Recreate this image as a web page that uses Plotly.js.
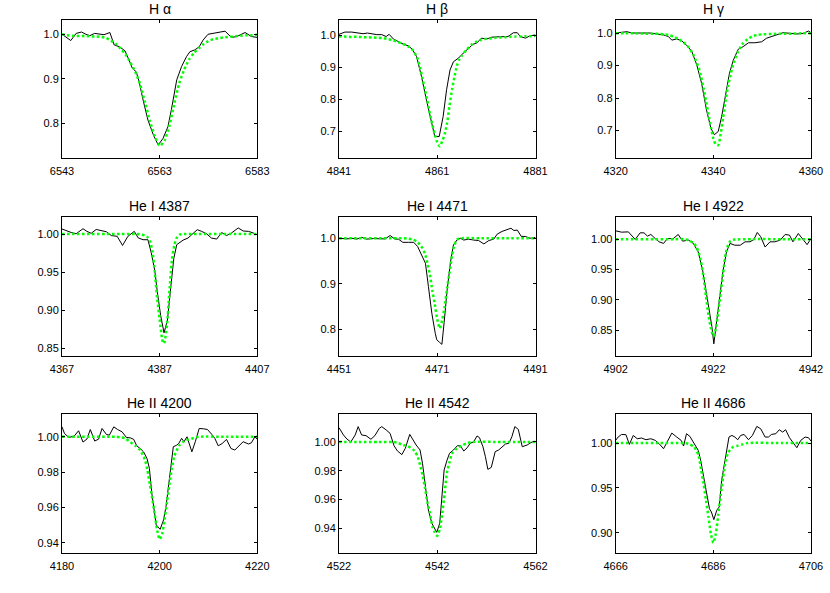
<!DOCTYPE html>
<html>
<head>
<meta charset="utf-8">
<script src="https://cdn.plot.ly/plotly-3.0.1.min.js"></script>
<style>html,body{margin:0;padding:0;background:#fff;}#chart{width:830px;height:593px;}</style>
</head>
<body>
<div id="chart"></div>
<script>
// ---------- Panel titles ----------
const panelTitles = ["H α", "H β", "H γ", "He I 4387", "He I 4471", "He I 4922", "He II 4200", "He II 4542", "He II 4686"];

// ---------- H alpha ----------
const haObsX = [6543, 6543.9, 6544.8, 6545.9, 6547.0, 6547.9, 6548.7, 6549.7, 6550.6, 6551.6, 6552.8, 6553.7, 6554.8, 6555.9, 6556.7, 6557.4, 6558.2, 6558.8, 6559.6, 6560.6, 6561.7, 6562.7, 6563.7, 6564.7, 6565.4, 6566.5, 6567.5, 6568.5, 6569.2, 6570.2, 6571.1, 6571.9, 6572.9, 6574.0, 6575.3, 6576.4, 6577.7, 6578.8, 6580.5, 6581.8, 6583.0];
const haObsY = [1.0, 0.993, 0.986, 1.002, 1.005, 1.0, 0.997, 1.002, 1.0, 0.999, 1.004, 0.976, 0.972, 0.963, 0.943, 0.924, 0.916, 0.894, 0.853, 0.808, 0.775, 0.752, 0.767, 0.793, 0.831, 0.898, 0.928, 0.950, 0.961, 0.965, 0.972, 0.987, 1.0, 1.002, 1.006, 1.007, 0.993, 0.995, 1.004, 0.995, 0.993];
const haModX = [6543, 6544, 6545, 6546, 6547, 6548, 6549, 6550, 6551, 6552, 6553, 6554, 6555, 6556, 6557, 6558, 6559, 6560, 6561, 6562, 6563, 6564, 6565, 6566, 6567, 6568, 6569, 6570, 6571, 6572, 6573, 6574, 6575, 6576, 6577, 6578, 6579, 6580, 6581, 6582, 6583];
const haModY = [1.0, 0.998, 0.997, 0.996, 0.996, 0.996, 0.995, 0.995, 0.994, 0.992, 0.986, 0.979, 0.968, 0.955, 0.937, 0.916, 0.888, 0.848, 0.806, 0.772, 0.750, 0.762, 0.795, 0.845, 0.890, 0.920, 0.943, 0.958, 0.968, 0.978, 0.985, 0.989, 0.991, 0.993, 0.994, 0.995, 0.996, 0.997, 0.998, 0.998, 0.999];

// ---------- H beta ----------
const hbObsX = [4841.0, 4842.2, 4843.6, 4844.9, 4845.9, 4846.8, 4847.6, 4848.7, 4849.7, 4850.6, 4851.2, 4852.1, 4853.1, 4854.1, 4855.1, 4855.9, 4856.8, 4857.8, 4858.8, 4859.8, 4860.5, 4861.4, 4862.2, 4862.9, 4863.6, 4864.3, 4865.3, 4866.3, 4867.3, 4868.3, 4869.0, 4870.0, 4871.0, 4872.1, 4873.1, 4874.1, 4875.4, 4876.5, 4877.3, 4877.9, 4879.0, 4879.8, 4881.0];
const hbObsY = [1.004, 1.011, 1.011, 1.009, 1.006, 1.008, 1.006, 1.003, 1.003, 0.997, 1.004, 0.989, 0.981, 0.973, 0.968, 0.957, 0.934, 0.871, 0.798, 0.730, 0.683, 0.683, 0.746, 0.830, 0.892, 0.918, 0.929, 0.945, 0.958, 0.973, 0.976, 0.992, 0.989, 0.995, 0.996, 0.997, 0.997, 1.009, 1.009, 0.997, 0.992, 0.999, 1.002];
const hbModX = [4841, 4842, 4843, 4844, 4845, 4846, 4847, 4848, 4849, 4850, 4851, 4852, 4853, 4854, 4855, 4856, 4857, 4857.5, 4858, 4858.5, 4859, 4859.5, 4860, 4860.5, 4861, 4861.5, 4862, 4862.5, 4863, 4863.5, 4864, 4864.5, 4865, 4865.5, 4866, 4867, 4868, 4869, 4870, 4871, 4872, 4873, 4874, 4875, 4876, 4877, 4878, 4879, 4880, 4881];
const hbModY = [0.997, 0.997, 0.996, 0.996, 0.996, 0.995, 0.995, 0.994, 0.993, 0.992, 0.989, 0.985, 0.980, 0.974, 0.967, 0.955, 0.928, 0.900, 0.865, 0.830, 0.795, 0.755, 0.720, 0.690, 0.665, 0.652, 0.668, 0.690, 0.725, 0.780, 0.830, 0.870, 0.905, 0.925, 0.937, 0.956, 0.972, 0.981, 0.987, 0.990, 0.991, 0.993, 0.994, 0.995, 0.996, 0.997, 0.997, 0.998, 0.998, 0.999];

// ---------- H gamma ----------
const hgObsX = [4320, 4321.2, 4322.3, 4323.3, 4324.6, 4326.0, 4327.0, 4328.4, 4329.8, 4330.8, 4331.5, 4332.5, 4333.5, 4334.5, 4335.6, 4336.6, 4337.6, 4338.6, 4339.5, 4340.2, 4341.0, 4341.7, 4342.4, 4343.3, 4344.1, 4345.1, 4346.1, 4347.2, 4348.5, 4349.9, 4350.9, 4351.9, 4353.3, 4354.3, 4355.7, 4357.1, 4358.4, 4359.5, 4360];
const hgObsY = [1.0, 1.003, 1.004, 1.0, 1.0, 1.001, 1.0, 0.997, 0.994, 0.989, 0.978, 0.982, 0.976, 0.963, 0.943, 0.902, 0.845, 0.763, 0.707, 0.687, 0.697, 0.743, 0.804, 0.876, 0.917, 0.950, 0.958, 0.970, 0.970, 0.973, 0.984, 0.989, 0.995, 1.001, 0.999, 0.997, 0.999, 1.006, 1.001];
const hgModX = [4320, 4322, 4324, 4326, 4328, 4329, 4330, 4331, 4332, 4333, 4334, 4335, 4336, 4337, 4337.5, 4338, 4338.5, 4339, 4339.5, 4340, 4340.5, 4341, 4341.5, 4342, 4342.5, 4343, 4343.5, 4344, 4345, 4346, 4347, 4348, 4349, 4350, 4352, 4354, 4356, 4358, 4360];
const hgModY = [0.999, 0.999, 0.999, 0.998, 0.998, 0.997, 0.996, 0.993, 0.988, 0.980, 0.970, 0.955, 0.930, 0.893, 0.865, 0.830, 0.790, 0.750, 0.710, 0.675, 0.657, 0.655, 0.690, 0.740, 0.790, 0.835, 0.870, 0.900, 0.940, 0.967, 0.981, 0.990, 0.994, 0.996, 0.997, 0.998, 0.998, 0.999, 0.999];

// ---------- He I 4387 ----------
const he4387ObsX = [4367, 4367.9, 4368.9, 4369.9, 4371.3, 4372.1, 4373.0, 4374.0, 4375.1, 4376.1, 4377.1, 4378.3, 4379.4, 4380.5, 4381.8, 4382.6, 4383.6, 4384.6, 4385.3, 4386.0, 4386.5, 4387.2, 4387.9, 4388.6, 4389.2, 4389.9, 4390.5, 4391.8, 4392.8, 4393.9, 4394.7, 4395.6, 4396.6, 4397.6, 4398.7, 4399.7, 4400.7, 4401.7, 4403.1, 4404.1, 4405.2, 4406.2, 4407];
const he4387ObsY = [1.0066, 1.004, 1.002, 1.0004, 1.007, 1.0035, 1.001, 1.006, 1.004, 1.003, 0.998, 0.997, 0.985, 0.997, 1.0035, 0.995, 0.9925, 0.9925, 0.975, 0.952, 0.925, 0.893, 0.870, 0.887, 0.925, 0.968, 0.986, 0.992, 0.9947, 1.0013, 1.0057, 1.0035, 1.0004, 0.9947, 0.9934, 1.002, 0.998, 1.0013, 1.008, 1.004, 1.0035, 1.0013, 0.999];
const he4387ModX = [4367, 4370, 4373, 4376, 4379, 4382, 4383, 4384, 4384.5, 4385, 4385.5, 4386, 4386.5, 4387, 4387.5, 4387.8, 4388, 4388.5, 4389, 4389.5, 4390, 4390.5, 4391, 4392, 4395, 4400, 4407];
const he4387ModY = [1.0, 1.0, 1.0, 1.0, 1.0, 1.0, 0.9995, 0.998, 0.996, 0.991, 0.978, 0.950, 0.915, 0.888, 0.862, 0.856, 0.858, 0.880, 0.925, 0.965, 0.985, 0.995, 0.999, 1.0, 1.0, 1.0, 1.0];

// ---------- He I 4471 ----------
const he4471ObsX = [4451, 4452.6, 4453.6, 4454.6, 4455.6, 4456.6, 4458.0, 4459.4, 4460.4, 4461.4, 4462.4, 4463.1, 4464.0, 4465.1, 4466.2, 4467.0, 4467.9, 4468.6, 4469.2, 4469.9, 4470.6, 4470.9, 4471.5, 4471.95, 4472.4, 4473.0, 4473.7, 4474.3, 4475.0, 4475.7, 4476.4, 4477.4, 4478.4, 4479.4, 4480.5, 4481.5, 4482.5, 4483.2, 4484.2, 4485.2, 4486.0, 4486.6, 4487.3, 4488.1, 4488.9, 4489.9, 4491];
const he4471ObsY = [1.0, 0.9985, 1.0, 0.998, 1.002, 0.998, 0.9993, 0.9993, 0.9985, 1.006, 0.998, 0.998, 0.991, 0.991, 0.991, 0.982, 0.963, 0.945, 0.894, 0.835, 0.791, 0.777, 0.771, 0.767, 0.815, 0.885, 0.948, 0.985, 0.996, 1.0, 0.996, 0.998, 0.996, 0.995, 0.9875, 0.995, 0.998, 1.009, 1.015, 1.018, 1.022, 1.017, 1.018, 1.004, 1.004, 1.0, 1.002];
const he4471ModX = [4451, 4455, 4460, 4464, 4465, 4466, 4467, 4467.5, 4468, 4468.5, 4469, 4469.5, 4470, 4470.5, 4471, 4471.5, 4472, 4472.5, 4473, 4473.5, 4474, 4474.5, 4475, 4476, 4480, 4485, 4491];
const he4471ModY = [1.0, 1.0, 1.0, 1.0, 0.999, 0.997, 0.992, 0.985, 0.978, 0.966, 0.945, 0.920, 0.885, 0.855, 0.822, 0.802, 0.820, 0.850, 0.890, 0.925, 0.962, 0.985, 0.997, 1.0, 1.0, 1.0, 1.0];

// ---------- He I 4922 ----------
const he4922ObsX = [4902, 4903.2, 4904.6, 4906.0, 4907.0, 4907.8, 4908.5, 4909.2, 4910.1, 4910.9, 4911.8, 4912.6, 4913.8, 4914.8, 4915.7, 4916.9, 4917.9, 4918.9, 4919.8, 4920.5, 4921.2, 4921.7, 4922.1, 4922.7, 4923.4, 4924.0, 4924.7, 4925.4, 4926.4, 4927.5, 4928.5, 4929.5, 4930.3, 4931.0, 4931.7, 4932.6, 4933.6, 4934.6, 4935.7, 4936.7, 4937.6, 4938.3, 4939.4, 4940.4, 4941.2, 4942];
const he4922ObsY = [1.0137, 1.0115, 1.012, 0.9995, 1.0104, 1.0104, 1.005, 1.0077, 1.001, 0.9956, 0.993, 1.001, 1.001, 1.0077, 0.9967, 0.9984, 0.993, 0.979, 0.949, 0.916, 0.881, 0.856, 0.8276, 0.867, 0.916, 0.949, 0.979, 0.993, 0.990, 0.990, 0.9956, 0.9956, 0.9995, 1.011, 1.004, 0.987, 0.9956, 0.9956, 0.9984, 1.0077, 1.0066, 0.9956, 1.0093, 0.9984, 0.991, 1.001];
const he4922ModX = [4902, 4906, 4910, 4914, 4916, 4917, 4918, 4918.5, 4919, 4919.5, 4920, 4920.5, 4921, 4921.5, 4922, 4922.5, 4923, 4923.5, 4924, 4924.5, 4925, 4925.5, 4926, 4930, 4936, 4942];
const he4922ModY = [1.0, 1.0, 1.0, 1.0, 1.0, 0.998, 0.993, 0.988, 0.978, 0.962, 0.937, 0.905, 0.875, 0.853, 0.840, 0.852, 0.880, 0.912, 0.944, 0.975, 0.990, 0.997, 0.999, 1.0, 1.0, 1.0];

// ---------- He II 4200 ----------
const he4200ObsX = [4180, 4180.5, 4181.4, 4182.5, 4183.4, 4184.3, 4185.1, 4185.8, 4186.7, 4187.5, 4188.2, 4189.1, 4189.7, 4190.6, 4191.4, 4192.3, 4193.2, 4194.0, 4194.7, 4195.3, 4196.0, 4196.7, 4197.4, 4197.9, 4198.4, 4198.9, 4199.3, 4200.1, 4200.8, 4201.3, 4201.8, 4202.4, 4202.8, 4203.4, 4203.9, 4204.5, 4205.0, 4205.6, 4206.1, 4206.6, 4207.3, 4208.1, 4209.0, 4209.8, 4210.7, 4211.3, 4212.0, 4212.8, 4213.7, 4214.6, 4215.4, 4216.3, 4217.1, 4218.2, 4218.8, 4219.5, 4220];
const he4200ObsY = [1.0056, 1.0019, 0.9996, 1.0004, 1.0034, 0.997, 0.9987, 1.0041, 0.9976, 0.9987, 1.0047, 1.0013, 1.0009, 1.0056, 1.0041, 1.0028, 0.9996, 0.9994, 0.9985, 0.9949, 0.9934, 0.9915, 0.9878, 0.9821, 0.968, 0.9567, 0.9502, 0.9477, 0.953, 0.9605, 0.9718, 0.985, 0.9944, 0.9951, 0.9962, 0.9991, 0.9972, 1.0, 0.9962, 0.9915, 0.9972, 1.0047, 1.0045, 1.0041, 1.0013, 0.9991, 0.9949, 0.9962, 0.9985, 0.9934, 0.9925, 0.9953, 0.9972, 0.9959, 0.9966, 1.0, 0.9985];
const he4200ModX = [4180, 4185, 4190, 4191, 4192, 4193, 4194, 4195, 4196, 4197, 4197.5, 4198, 4198.5, 4199, 4199.5, 4200, 4200.5, 4201, 4201.5, 4202, 4202.5, 4203, 4204, 4205, 4206, 4207, 4208, 4214, 4220];
const he4200ModY = [1.0, 1.0, 1.0, 1.0, 0.9997, 0.999, 0.997, 0.995, 0.9925, 0.987, 0.981, 0.973, 0.965, 0.956, 0.947, 0.942, 0.945, 0.953, 0.963, 0.973, 0.982, 0.989, 0.995, 0.9975, 0.9985, 0.9993, 1.0, 1.0, 1.0];

// ---------- He II 4542 ----------
const he4542ObsX = [4522, 4522.9, 4523.6, 4524.4, 4525.3, 4525.9, 4526.6, 4527.5, 4528.5, 4529.3, 4530.2, 4530.7, 4531.6, 4532.4, 4533.2, 4533.9, 4534.8, 4535.5, 4536.4, 4537.0, 4537.7, 4538.5, 4539.0, 4539.6, 4540.2, 4540.9, 4541.5, 4541.9, 4542.5, 4543.0, 4543.4, 4544.0, 4544.5, 4545.3, 4546.1, 4546.7, 4547.4, 4548.1, 4548.7, 4549.4, 4550.1, 4550.6, 4551.3, 4551.8, 4552.3, 4553.0, 4553.8, 4554.5, 4555.2, 4555.9, 4556.6, 4557.2, 4557.8, 4558.5, 4559.3, 4560.3, 4561.3, 4562];
const he4542ObsY = [1.01, 1.0049, 1.0021, 1.0, 1.0049, 1.0107, 1.0049, 1.0044, 1.0019, 1.0044, 1.0095, 1.0107, 1.0084, 1.006, 0.9974, 0.9937, 0.9912, 0.9956, 1.0053, 1.0019, 0.9979, 0.9944, 0.9851, 0.9688, 0.9526, 0.9433, 0.9391, 0.937, 0.9433, 0.9619, 0.9805, 0.9874, 0.9921, 0.9944, 0.9974, 0.9974, 0.9937, 0.996, 0.9991, 1.0, 1.0042, 1.003, 0.9967, 0.9898, 0.9809, 0.9823, 0.9933, 0.9944, 0.9967, 0.9986, 0.9991, 1.0037, 1.0107, 1.0088, 0.9967, 0.9979, 1.0, 1.0];
const he4542ModX = [4522, 4526, 4530, 4533, 4534, 4535, 4536, 4537, 4537.5, 4538, 4538.5, 4539, 4539.5, 4540, 4540.5, 4541, 4541.5, 4542, 4542.5, 4543, 4543.5, 4544, 4544.5, 4545, 4546, 4547, 4548, 4549, 4555, 4562];
const he4542ModY = [1.0, 1.0, 1.0, 1.0, 0.9993, 0.998, 0.997, 0.995, 0.993, 0.990, 0.984, 0.977, 0.968, 0.958, 0.951, 0.941, 0.937, 0.9345, 0.939, 0.950, 0.964, 0.979, 0.986, 0.992, 0.9955, 0.9975, 0.999, 1.0, 1.0, 1.0];

// ---------- He II 4686 ----------
const he4686ObsX = [4666, 4666.5, 4667.2, 4668.1, 4668.8, 4669.6, 4670.4, 4671.3, 4672.2, 4673.2, 4674.1, 4674.9, 4675.8, 4676.6, 4677.5, 4678.5, 4679.4, 4679.9, 4680.5, 4681.2, 4682.0, 4682.9, 4683.4, 4683.9, 4684.6, 4685.2, 4685.6, 4686.1, 4686.7, 4687.2, 4687.7, 4688.2, 4688.7, 4689.2, 4689.8, 4690.4, 4691.0, 4691.6, 4692.3, 4693.2, 4694.0, 4694.9, 4695.7, 4696.6, 4697.3, 4697.9, 4698.8, 4699.5, 4700.2, 4700.8, 4701.6, 4702.2, 4703.1, 4703.9, 4704.8, 4705.5, 4706];
const he4686ObsY = [1.003, 1.0067, 1.0096, 1.0093, 0.9985, 1.0085, 1.0048, 1.0056, 1.0037, 1.0048, 1.003, 0.9993, 0.9937, 1.0019, 1.0111, 1.0067, 1.003, 0.9967, 1.0104, 1.0074, 0.9993, 0.9919, 0.9807, 0.9659, 0.9474, 0.927, 0.9233, 0.9148, 0.9252, 0.9289, 0.9585, 0.9752, 0.99, 1.0067, 1.0085, 1.0067, 1.0037, 1.0085, 1.0096, 1.0037, 1.0085, 1.0185, 1.0159, 1.0067, 1.0067, 1.0096, 1.0104, 1.0148, 1.0122, 1.0148, 1.0059, 1.0011, 0.9948, 1.003, 1.0067, 1.0059, 1.0022];
const he4686ModX = [4666, 4670, 4675, 4680, 4681, 4682, 4682.5, 4683, 4683.5, 4684, 4684.5, 4685, 4685.5, 4686, 4686.5, 4687, 4687.5, 4688, 4688.5, 4689, 4690, 4691, 4692, 4693, 4700, 4706];
const he4686ModY = [1.0, 1.0, 1.0, 1.0, 0.999, 0.996, 0.992, 0.986, 0.970, 0.955, 0.936, 0.918, 0.899, 0.889, 0.899, 0.920, 0.942, 0.962, 0.979, 0.989, 0.9955, 0.997, 0.9985, 1.0, 1.0, 1.0];

// ---------- Axis ranges and ticks ----------
const xRanges = [[6543, 6583], [4841, 4881], [4320, 4360], [4367, 4407], [4451, 4491], [4902, 4942], [4180, 4220], [4522, 4562], [4666, 4706]];
const xTicks = [[6543, 6563, 6583], [4841, 4861, 4881], [4320, 4340, 4360], [4367, 4387, 4407], [4451, 4471, 4491], [4902, 4922, 4942], [4180, 4200, 4220], [4522, 4542, 4562], [4666, 4686, 4706]];
const yRanges = [[0.724, 1.032], [0.617, 1.049], [0.617, 1.040], [0.840, 1.022], [0.742, 1.046], [0.808, 1.036], [0.9345, 1.0127], [0.9228, 1.0193], [0.878, 1.032]];
const yTickVals = [[0.8, 0.9, 1.0], [0.7, 0.8, 0.9, 1.0], [0.7, 0.8, 0.9, 1.0], [0.85, 0.90, 0.95, 1.00], [0.8, 0.9, 1.0], [0.85, 0.90, 0.95, 1.00], [0.94, 0.96, 0.98, 1.00], [0.94, 0.96, 0.98, 1.00], [0.90, 0.95, 1.00]];
const yTickText = [["0.8", "0.9", "1.0"], ["0.7", "0.8", "0.9", "1.0"], ["0.7", "0.8", "0.9", "1.0"], ["0.85", "0.90", "0.95", "1.00"], ["0.8", "0.9", "1.0"], ["0.85", "0.90", "0.95", "1.00"], ["0.94", "0.96", "0.98", "1.00"], ["0.94", "0.96", "0.98", "1.00"], ["0.90", "0.95", "1.00"]];

const obsX = [haObsX, hbObsX, hgObsX, he4387ObsX, he4471ObsX, he4922ObsX, he4200ObsX, he4542ObsX, he4686ObsX];
const obsY = [haObsY, hbObsY, hgObsY, he4387ObsY, he4471ObsY, he4922ObsY, he4200ObsY, he4542ObsY, he4686ObsY];
const modX = [haModX, hbModX, hgModX, he4387ModX, he4471ModX, he4922ModX, he4200ModX, he4542ModX, he4686ModX];
const modY = [haModY, hbModY, hgModY, he4387ModY, he4471ModY, he4922ModY, he4200ModY, he4542ModY, he4686ModY];

// ---------- Layout geometry (pixels -> paper) ----------
const W = 830, H = 593;
const colPx = [[62, 257.3], [339, 535.5], [615.7, 811]];
const rowPx = [[20, 157.5], [217.3, 355.7], [414.3, 552.7]];

const FONT = "Liberation Sans";
const traces = [];
const layout = {
  width: W, height: H,
  margin: {l: 0, r: 0, t: 0, b: 0},
  paper_bgcolor: "#fff", plot_bgcolor: "#fff",
  showlegend: false,
  font: {family: FONT, size: 11, color: "#000", weight: "normal"},
  annotations: []
};

for (let i = 0; i < 9; i++) {
  const r = Math.floor(i / 3), c = i % 3;
  const sfx = i === 0 ? "" : String(i + 1);
  const xd = [colPx[c][0] / W, colPx[c][1] / W];
  const yd = [1 - rowPx[r][1] / H, 1 - rowPx[r][0] / H];
  layout["xaxis" + sfx] = {
    domain: xd, range: xRanges[i], anchor: "y" + sfx,
    tickmode: "array", tickvals: xTicks[i], ticktext: xTicks[i].map(String),
    ticks: "inside", ticklen: 3, tickwidth: 1, tickcolor: "#000",
    ticklabelstandoff: 3,
    showline: true, linecolor: "#000", linewidth: 1, mirror: "ticks",
    showgrid: false, zeroline: false,
    tickfont: {family: FONT, size: 11, color: "#000", weight: "normal"}
  };
  layout["yaxis" + sfx] = {
    domain: yd, range: yRanges[i], anchor: "x" + sfx,
    tickmode: "array", tickvals: yTickVals[i], ticktext: yTickText[i],
    ticks: "inside", ticklen: 3, tickwidth: 1, tickcolor: "#000",
    showline: true, linecolor: "#000", linewidth: 1, mirror: "ticks",
    showgrid: false, zeroline: false,
    tickfont: {family: FONT, size: 11, color: "#000", weight: "normal"}
  };
  layout.annotations.push({
    text: panelTitles[i], xref: "paper", yref: "paper",
    x: (xd[0] + xd[1]) / 2, y: yd[1], xanchor: "center", yanchor: "bottom",
    yshift: 1, showarrow: false, font: {family: FONT, size: 14, color: "#000", weight: "normal"}
  });
  traces.push({
    x: obsX[i], y: obsY[i], xaxis: "x" + sfx, yaxis: "y" + sfx,
    type: "scatter", mode: "lines", line: {color: "#000", width: 1}, hoverinfo: "skip"
  });
  traces.push({
    x: modX[i], y: modY[i], xaxis: "x" + sfx, yaxis: "y" + sfx,
    type: "scatter", mode: "lines", line: {color: "#00ff00", width: 2.5, dash: "2.5px,2.5px", shape: "spline", smoothing: 0.6}, hoverinfo: "skip"
  });
}

Plotly.newPlot("chart", traces, layout, {staticPlot: true, displayModeBar: false});
</script>
</body>
</html>
